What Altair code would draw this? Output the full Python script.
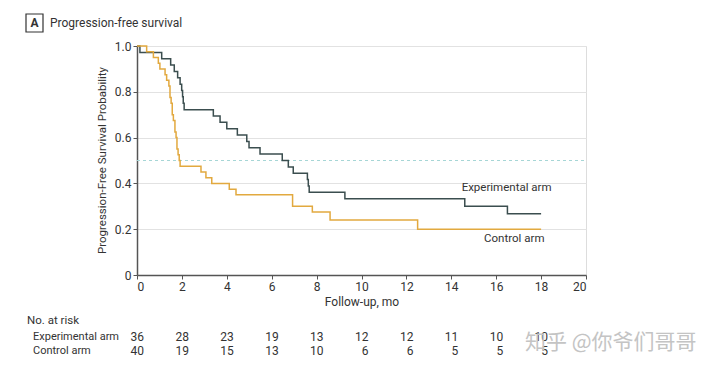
import altair as alt
import pandas as pd

# ---- data ----
exp_t = [0, 0.13, 1.1, 1.5, 1.66, 1.81, 1.92, 1.99, 2.03, 2.06, 2.1, 3.4, 3.7, 4.0,
         4.47, 4.89, 4.99, 5.48, 6.47, 6.74, 6.96, 7.59, 7.63, 7.67, 9.26, 14.6, 16.5, 18.0]
exp_s = [1.0, 0.972, 0.944, 0.917, 0.889, 0.861, 0.833, 0.806, 0.778, 0.75, 0.722, 0.694,
         0.667, 0.639, 0.611, 0.583, 0.556, 0.528, 0.5, 0.472, 0.444, 0.417, 0.389, 0.361,
         0.333, 0.30, 0.267, 0.267]

ctl_t = [0, 0.43, 0.73, 0.95, 1.02, 1.25, 1.32, 1.42, 1.47, 1.52, 1.57, 1.62, 1.69, 1.74,
         1.78, 1.83, 1.88, 1.92, 2.85, 3.07, 3.33, 4.11, 4.41, 6.93, 7.81, 8.6, 12.5, 18.0]
ctl_s = [1.0, 0.975, 0.95, 0.925, 0.9, 0.875, 0.85, 0.825, 0.775, 0.75, 0.7, 0.675, 0.625,
         0.6, 0.55, 0.525, 0.5, 0.475, 0.45, 0.425, 0.4, 0.375, 0.35, 0.3, 0.275, 0.24, 0.2, 0.2]

arms = ["Experimental arm", "Control arm"]
arm_colors = ["#3b4e4f", "#e2a93f"]

risk_t = [0, 2, 4, 6, 8, 10, 12, 14, 16, 18]
exp_risk = [36, 28, 23, 19, 13, 12, 12, 11, 10, 10]
ctl_risk = [40, 19, 15, 13, 10, 6, 6, 5, 5, 5]

x_ticks = [0, 2, 4, 6, 8, 10, 12, 14, 16, 18, 20]
y_ticks = [0, 0.2, 0.4, 0.6, 0.8, 1.0]
median_level = [0.5]

FONT = "Roboto"
W, H = 449, 229

curves = pd.DataFrame({
    "t": exp_t + ctl_t,
    "s": exp_s + ctl_s,
    "arm": [arms[0]] * len(exp_t) + [arms[1]] * len(ctl_t),
})
risk = pd.DataFrame({"t": risk_t, "exp": exp_risk, "ctl": ctl_risk})
med = pd.DataFrame({"v": median_level})
one = pd.DataFrame({"k": [0]})

xs = alt.Scale(domain=[0, 20], nice=False)
ys = alt.Scale(domain=[0, 1], nice=False)

lines = alt.Chart(curves).mark_line(interpolate="step-after", strokeWidth=1.5).encode(
    x=alt.X("t:Q", scale=xs, axis=alt.Axis(
        values=x_ticks, title="Follow-up, mo", grid=False, labelFontSize=12,
        titleFontSize=12, titleFontWeight="normal", titlePadding=4, tickSize=4,
        labelPadding=2, domainColor="#555555", tickColor="#555555", domainWidth=1.5,
        labelColor="#333333", titleColor="#333333", labelFont=FONT, titleFont=FONT)),
    y=alt.Y("s:Q", scale=ys, axis=alt.Axis(
        values=y_ticks, title=None, grid=True, gridColor="#e2e2e2", labelFontSize=12,
        tickSize=4, labelPadding=2, domainColor="#555555", tickColor="#555555",
        domainWidth=1.5, labelColor="#333333", labelFont=FONT,
        labelExpr="datum.value == 0 ? '0' : format(datum.value, '.1f')")),
    color=alt.Color("arm:N", scale=alt.Scale(domain=arms, range=arm_colors), legend=None),
    detail="arm:N",
)

median_rule = alt.Chart(med).mark_rule(color="#a6d6d6", strokeDash=[3, 3], strokeWidth=1).encode(
    y=alt.Y("v:Q", scale=ys), x=alt.datum(0), x2=alt.datum(20))

lab_exp = alt.Chart(one).mark_text(align="left", baseline="middle", font=FONT, fontSize=11.5,
                                   color="#333333").encode(
    x=alt.datum(14.46), y=alt.datum(0.381), text=alt.value(arms[0]))
lab_ctl = alt.Chart(one).mark_text(align="left", baseline="middle", font=FONT, fontSize=11.5,
                                   color="#333333").encode(
    x=alt.datum(15.46), y=alt.datum(0.157), text=alt.value(arms[1]))

risk_exp = alt.Chart(risk).mark_text(align="right", dx=7, baseline="middle", font=FONT,
                                     fontSize=12, color="#333333").encode(
    x=alt.X("t:Q", scale=xs), y=alt.value(291), text="exp:N")
risk_ctl = alt.Chart(risk).mark_text(align="right", dx=7, baseline="middle", font=FONT,
                                     fontSize=12, color="#333333").encode(
    x=alt.X("t:Q", scale=xs), y=alt.value(305), text="ctl:N")

def txt(s, x, y, size=12.5, align="left", weight="normal", angle=0, color="#333333", font=FONT):
    kw = dict(align=align, baseline="middle", font=font, fontSize=size, fontWeight=weight,
              color=color)
    if angle:
        kw["angle"] = angle
    return alt.Chart(one).mark_text(**kw).encode(
        x=alt.value(x), y=alt.value(y), text=alt.value(s))

risk_head = txt("No. at risk", -110, 275, size=11.5)
risk_lab1 = txt(arms[0], -104, 291, size=11)
risk_lab2 = txt(arms[1], -104, 305, size=11)
y_title = txt("Progression-Free Survival Probability", -34, H / 2, size=11.5, align="center",
              angle=270)

box = alt.Chart(one).mark_rect(fill="white", stroke="#333333", strokeWidth=1.2).encode(
    x=alt.value(-111), x2=alt.value(-94), y=alt.value(-32), y2=alt.value(-14))
box_letter = txt("A", -102.5, -23, size=12, align="center", weight="bold")
title = txt("Progression-free survival", -87, -23, size=12)

watermark = txt("知乎 @你爷们哥哥", 388, 297, size=21, color="#c4c4c4",
                font="Noto Sans CJK SC")

chart = alt.layer(
    median_rule, lines, lab_exp, lab_ctl, risk_exp, risk_ctl, risk_head, risk_lab1, risk_lab2,
    y_title, box, box_letter, title, watermark
).properties(
    width=W, height=H,
    autosize=alt.AutoSizeParams(type="none"),
    padding={"left": 129, "top": 38, "right": 120, "bottom": 85},
).configure_view(stroke=None).configure(background="white")

chart.save("out.html", embed_options={"renderer": "svg", "actions": False})
